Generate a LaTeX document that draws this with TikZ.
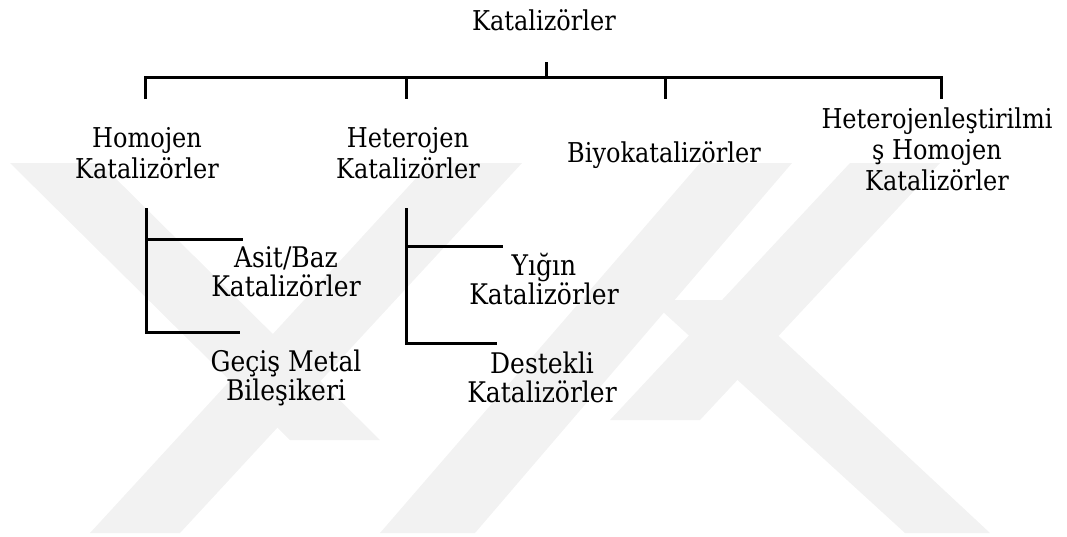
\documentclass[tikz,border=0pt]{standalone}
\usepackage{fontspec}
\setmainfont{DejaVu Serif}[FakeStretch=0.88]
\begin{document}
\begin{tikzpicture}[x=1pt,y=-1pt,
  lbl/.style={inner sep=0pt, align=center, anchor=base, font=\fontsize{27.3}{31}\selectfont},
  sublbl/.style={inner sep=0pt, align=center, anchor=base, font=\fontsize{28.4}{29}\selectfont},
  tree/.style={line width=3pt, black},
  wm/.style={fill=black!5, draw=none}]
\useasboundingbox (0,0) rectangle (1067,536);
% watermark
\fill[wm] (10,163) -- (100,163) -- (380,440) -- (290,440) -- cycle;
\fill[wm] (430,163) -- (522,163) -- (180,533) -- (90,533) -- cycle;
\fill[wm] (700,163) -- (792,163) -- (475,533) -- (380,533) -- cycle;
\fill[wm] (850,163) -- (940,163) -- (700,420) -- (610,420) -- cycle;
\fill[wm] (650,300) -- (740,300) -- (990,533) -- (905,533) -- cycle;
% labels
\node[lbl] (root) at (544,30) {Katalizörler};
\node[lbl] (homo) at (147,178) {Homojen\\Katalizörler};
\node[lbl] (hetero) at (408,178) {Heterojen\\Katalizörler};
\node[lbl] (bio) at (664,162) {Biyokatalizörler};
\node[lbl] (hh) at (937,190) {Heterojenleştirilmi\\ş Homojen\\Katalizörler};
\node[sublbl] (asit) at (286,296) {Asit/Baz\\Katalizörler};
\node[sublbl] (gecis) at (286,400) {Geçiş Metal\\Bileşikeri};
\node[sublbl] (yigin) at (544,304) {Yığın\\Katalizörler};
\node[sublbl] (destek) at (542,402) {Destekli\\Katalizörler};
% connector points
\coordinate (stubT) at (546,62);
\coordinate (stubB) at (546,77);
\coordinate (barL) at (145,77);
\coordinate (barR) at (941,77);
\coordinate (d1) at (145,99);
\coordinate (d2t) at (406,77);
\coordinate (d2) at (406,99);
\coordinate (d3t) at (665,77);
\coordinate (d3) at (665,99);
\coordinate (d4) at (941,99);
\coordinate (hoT) at (146,208);
\coordinate (hoA) at (146,239);
\coordinate (hoB) at (146,332);
\coordinate (asitL) at (243,239);
\coordinate (gecisL) at (240,332);
\coordinate (heT) at (406,208);
\coordinate (heA) at (406,246);
\coordinate (heB) at (406,343);
\coordinate (yiginL) at (503,246);
\coordinate (destekL) at (497,343);
% main tree
\draw[tree] (stubT) -- (stubB);
\draw[tree] (d1) -- (barL) -- (barR) -- (d4);
\draw[tree] (d2t) -- (d2);
\draw[tree] (d3t) -- (d3);
% homojen branch
\draw[tree] (hoT) -- (hoB) -- (gecisL);
\draw[tree] (hoA) -- (asitL);
% heterojen branch
\draw[tree] (heT) -- (heB) -- (destekL);
\draw[tree] (heA) -- (yiginL);
\end{tikzpicture}
\end{document}
